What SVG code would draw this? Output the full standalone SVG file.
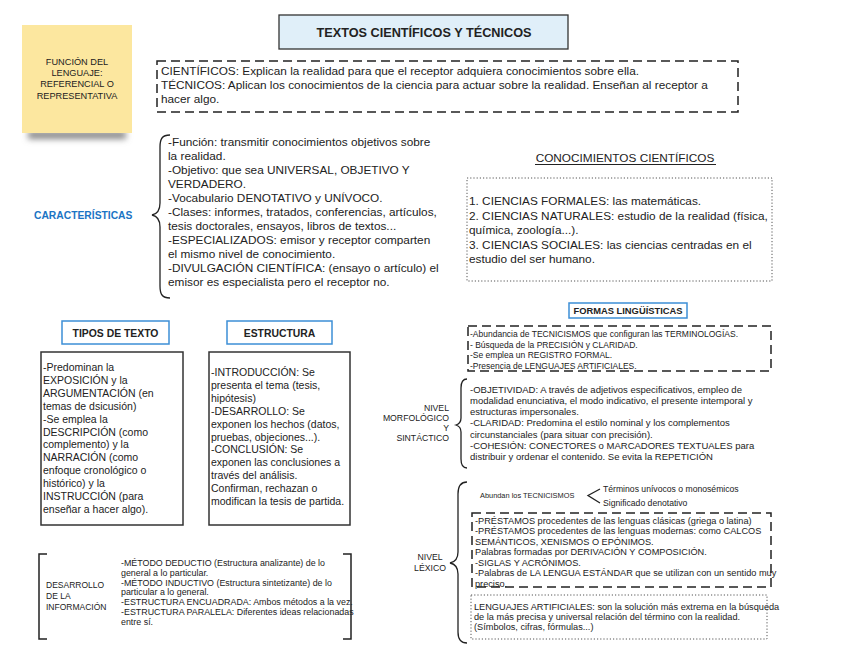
<svg xmlns="http://www.w3.org/2000/svg" width="848" height="655" viewBox="0 0 848 655">
<defs>
<filter id="blur" x="-20%" y="-100%" width="140%" height="300%"><feGaussianBlur stdDeviation="3"/></filter>
<style>
text{font-family:"Liberation Sans",Arial,sans-serif;fill:#222}
.m{font-size:11.8px}
.s{font-size:10.5px}
.xs{font-size:8.5px}
.lab{font-size:8.7px}
.st{font-size:9.2px}
.b{font-weight:bold}
.blue{fill:#1b74c4}
.dash{fill:none;stroke:#222;stroke-width:1.5;stroke-dasharray:9 5}
.dot{fill:none;stroke:#555;stroke-width:1;stroke-dasharray:1.2 2}
.solid{fill:#fff;stroke:#333;stroke-width:1.5}
.bluebox{fill:#fff;stroke:#3d8fd6;stroke-width:1.5}
.brace{fill:none;stroke:#222;stroke-width:1.3}
</style>
</defs>
<rect width="848" height="655" fill="#fff"/>

<g id="sticky">
<rect x="28" y="131" width="98" height="8" fill="#888" filter="url(#blur)"/>
<rect x="22" y="25" width="110" height="108" fill="#fce79f"/>
<text class="st" x="77" y="65" text-anchor="middle">FUNCIÓN DEL</text>
<text class="st" x="77" y="76" text-anchor="middle">LENGUAJE:</text>
<text class="st" x="77" y="87" text-anchor="middle">REFERENCIAL O</text>
<text class="st" x="77" y="98.5" text-anchor="middle">REPRESENTATIVA</text>
</g>

<g id="title">
<rect x="279" y="15" width="289" height="34" fill="#e0eff9" stroke="#333" stroke-width="1.3"/>
<text x="424" y="36.5" text-anchor="middle" font-size="12.7" class="b">TEXTOS CIENTÍFICOS Y TÉCNICOS</text>
</g>

<g id="definicion">
<rect x="157" y="61" width="581" height="51" class="dash"/>
<text class="m" x="161" y="75">CIENTÍFICOS:  Explican la realidad para que el receptor adquiera conocimientos sobre ella.</text>
<text class="m" x="161" y="89">TÉCNICOS:  Aplican los conocimientos de la ciencia para actuar sobre la realidad. Enseñan al receptor a</text>
<text class="m" x="161" y="103">hacer algo.</text>
</g>

<g id="caracteristicas">
<text x="34" y="219" font-size="10.3" class="b blue">CARACTERÍSTICAS</text>
<text class="m" x="168" y="146">-Función: transmitir conocimientos objetivos sobre</text>
<text class="m" x="168" y="160">la realidad.</text>
<text class="m" x="168" y="174">-Objetivo: que sea UNIVERSAL, OBJETIVO Y</text>
<text class="m" x="168" y="188">VERDADERO.</text>
<text class="m" x="168" y="202">-Vocabulario DENOTATIVO y UNÍVOCO.</text>
<text class="m" x="168" y="216">-Clases: informes, tratados, conferencias, artículos,</text>
<text class="m" x="168" y="230">tesis doctorales, ensayos, libros de textos...</text>
<text class="m" x="168" y="244">-ESPECIALIZADOS: emisor y receptor comparten</text>
<text class="m" x="168" y="258">el mismo nivel de conocimiento.</text>
<text class="m" x="168" y="272">-DIVULGACIÓN CIENTÍFICA: (ensayo o artículo) el</text>
<text class="m" x="168" y="286">emisor es especialista pero el receptor no.</text>
</g>

<g id="conocimientos">
<text class="m" x="625" y="162" text-anchor="middle">CONOCIMIENTOS CIENTÍFICOS</text>
<line x1="535" y1="164.5" x2="716" y2="164.5" stroke="#222" stroke-width="1"/>
<rect x="467" y="178" width="305" height="103" class="dot"/>
<text class="m" x="469" y="205">1. CIENCIAS FORMALES: las matemáticas.</text>
<text class="m" x="469" y="219.5">2. CIENCIAS NATURALES: estudio de la realidad (física,</text>
<text class="m" x="469" y="234">química, zoología...).</text>
<text class="m" x="469" y="248.5">3. CIENCIAS SOCIALES: las ciencias centradas en el</text>
<text class="m" x="469" y="263">estudio del ser humano.</text>
</g>

<g id="tipos-titulo">
<rect x="62" y="321" width="107" height="23" class="bluebox"/>
<text x="115.5" y="336.5" text-anchor="middle" font-size="10.4" class="b">TIPOS DE TEXTO</text>
</g>
<g id="estructura-titulo">
<rect x="227" y="321" width="105" height="23" class="bluebox"/>
<text x="279.5" y="336.5" text-anchor="middle" font-size="10.4" class="b">ESTRUCTURA</text>
</g>

<g id="tipos">
<rect x="41" y="352" width="142" height="173" class="solid"/>
<text class="s" x="43" y="371">-Predominan la</text>
<text class="s" x="43" y="383.9">EXPOSICIÓN y la</text>
<text class="s" x="43" y="396.8">ARGUMENTACIÓN (en</text>
<text class="s" x="43" y="409.7">temas de dsicusión)</text>
<text class="s" x="43" y="422.6">-Se emplea la</text>
<text class="s" x="43" y="435.5">DESCRIPCIÓN (como</text>
<text class="s" x="43" y="448.4">complemento) y la</text>
<text class="s" x="43" y="461.3">NARRACIÓN (como</text>
<text class="s" x="43" y="474.2">enfoque cronológico o</text>
<text class="s" x="43" y="487.1">histórico) y la</text>
<text class="s" x="43" y="500">INSTRUCCIÓN (para</text>
<text class="s" x="43" y="512.9">enseñar a hacer algo).</text>
</g>

<g id="estructura">
<rect x="209" y="352" width="141" height="173" class="solid"/>
<text class="s" x="211" y="376">-INTRODUCCIÓN: Se</text>
<text class="s" x="211" y="388.9">presenta el tema (tesis,</text>
<text class="s" x="211" y="401.8">hipótesis)</text>
<text class="s" x="211" y="414.7">-DESARROLLO: Se</text>
<text class="s" x="211" y="427.6">exponen los hechos (datos,</text>
<text class="s" x="211" y="440.5">pruebas, objeciones...).</text>
<text class="s" x="211" y="453.4">-CONCLUSIÓN: Se</text>
<text class="s" x="211" y="466.3">exponen las conclusiones a</text>
<text class="s" x="211" y="479.2">través del análisis.</text>
<text class="s" x="211" y="492.1">Confirman, rechazan o</text>
<text class="s" x="211" y="505">modifican la tesis de partida.</text>
</g>

<g id="desarrollo">
<text class="xs" x="46" y="588">DESARROLLO</text>
<text class="xs" x="46" y="599">DE LA</text>
<text class="xs" x="46" y="609.5">INFORMACIÓN</text>
<text x="121" y="566" font-size="8.9">-MÉTODO DEDUCTIO (Estructura analizante) de lo</text>
<text x="121" y="575.8" font-size="8.9">general a lo particular.</text>
<text x="121" y="585.6" font-size="8.9">-MÉTODO INDUCTIVO (Estructura sintetizante) de lo</text>
<text x="121" y="595.4" font-size="8.9">particular a lo general.</text>
<text x="121" y="605.2" font-size="8.9">-ESTRUCTURA ENCUADRADA: Ambos métodos a la vez.</text>
<text x="121" y="615" font-size="8.9">-ESTRUCTURA PARALELA: Diferentes ideas relacionadas</text>
<text x="121" y="624.8" font-size="8.9">entre sí.</text>
</g>

<g id="formas-titulo">
<rect x="569" y="303" width="118" height="15" class="bluebox"/>
<text x="628" y="314" text-anchor="middle" font-size="9.35" class="b">FORMAS LINGÜÍSTICAS</text>
</g>

<g id="formas">
<rect x="468" y="326" width="303" height="45" class="dash"/>
<text class="xs" x="470" y="337">-Abundancia de TECNICISMOS que configuran las TERMINOLOGÍAS.</text>
<text class="xs" x="470" y="347.5">- Búsqueda de la PRECISIÓN y CLARIDAD.</text>
<text class="xs" x="470" y="358">-Se emplea un REGISTRO FORMAL.</text>
<text class="xs" x="470" y="368.5">-Presencia de LENGUAJES ARTIFICIALES.</text>
</g>

<g id="nivel-morfologico">
<text class="lab" x="449" y="411" text-anchor="end">NIVEL</text>
<text class="lab" x="449" y="421" text-anchor="end">MORFOLÓGICO</text>
<text class="lab" x="449" y="431" text-anchor="end">Y</text>
<text class="lab" x="449" y="441" text-anchor="end">SINTÁCTICO</text>
<text font-size="9.5" x="470" y="392.5">-OBJETIVIDAD: A través de adjetivos especificativos, empleo de</text>
<text font-size="9.5" x="470" y="403.8">modalidad enunciativa, el modo indicativo, el presente intemporal y</text>
<text font-size="9.5" x="470" y="415.1">estructuras impersonales.</text>
<text font-size="9.5" x="470" y="426.4">-CLARIDAD: Predomina el estilo nominal y los complementos</text>
<text font-size="9.5" x="470" y="437.7">circunstanciales (para situar con precisión).</text>
<text font-size="9.5" x="470" y="449">-COHESIÓN: CONECTORES o MARCADORES TEXTUALES para</text>
<text font-size="9.5" x="470" y="460.3">distribuir y ordenar el contenido. Se evita la REPETICIÓN</text>
</g>

<g id="nivel-lexico">
<text class="lab" x="430" y="560" text-anchor="middle">NIVEL</text>
<text class="lab" x="430" y="570.5" text-anchor="middle">LÉXICO</text>
<text x="480" y="497.5" font-size="7.4">Abundan los TECNICISMOS</text>
<text x="603" y="492" font-size="8.65">Términos unívocos o monosémicos</text>
<text x="603" y="506" font-size="8.65">Significado denotativo</text>
</g>

<g id="lexico-prestamos">
<rect x="472" y="513" width="299" height="74" class="dash"/>
<text font-size="9.2" x="475" y="523.5">-PRÉSTAMOS procedentes de las lenguas clásicas (griega o latina)</text>
<text font-size="9.2" x="475" y="534">-PRÉSTAMOS procedentes de las lenguas modernas: como CALCOS</text>
<text font-size="9.2" x="475" y="544.5">SEMÁNTICOS, XENISMOS O EPÓNIMOS.</text>
<text font-size="9.2" x="475" y="555"> Palabras formadas por DERIVACIÓN Y COMPOSICIÓN.</text>
<text font-size="9.2" x="475" y="565.5">-SIGLAS Y ACRÓNIMOS.</text>
<text font-size="9.2" x="475" y="576">-Palabras de LA LENGUA ESTÁNDAR  que se utilizan con un sentido muy</text>
<text font-size="9.2" x="475" y="586.5">preciso.</text>
</g>

<g id="lexico-artificiales">
<rect x="471" y="595" width="296" height="44" class="dot"/>
<text font-size="9.2" x="474" y="610">LENGUAJES ARTIFICIALES: son la solución más extrema en la búsqueda</text>
<text font-size="9.2" x="474" y="620">de la más precisa y universal relación del término con la realidad.</text>
<text font-size="9.2" x="474" y="630">(Símbolos, cifras, fórmulas...)</text>
</g>

<g id="connectors">
<path class="brace" d="M170,135 C162,135 160,139 160,147 L160,203 C160,211 157,214 152,215 C157,216 160,219 160,227 L160,286 C160,294 162,298 170,298"/>
<path class="brace" d="M467,379 C463,379 461,382 461,388 L461,418 C461,422 459,424 456,425 C459,426 461,428 461,432 L461,459 C461,465 463,468 467,468"/>
<path class="brace" d="M467,482 C461,482 458,486 458,494 L458,552 C458,559 455,562 450,563 C455,564 458,567 458,574 L458,632 C458,640 461,643 467,643"/>
<polyline class="brace" points="600,489 588,495.5 600,503"/>
<polyline fill="none" stroke="#222" stroke-width="1.5" points="47,554 39,554 39,639 47,639"/>
<polyline fill="none" stroke="#222" stroke-width="1.5" points="343,554 351,554 351,639 343,639"/>
</g>
</svg>
